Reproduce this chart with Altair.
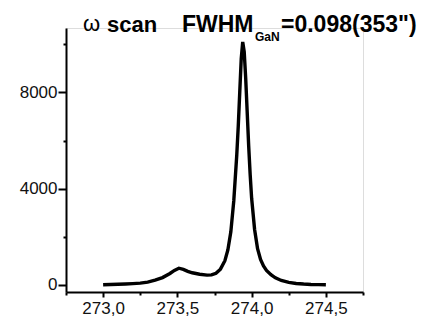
import altair as alt
import pandas as pd

# omega angle (deg) and intensity (counts)
omega = [273.00, 273.05, 273.10, 273.15, 273.20, 273.25, 273.30, 273.35, 273.40, 273.45,
         273.48, 273.51, 273.54, 273.57, 273.60, 273.65, 273.70, 273.73, 273.76, 273.79,
         273.82, 273.84, 273.86, 273.88, 273.90, 273.91, 273.92, 273.93, 273.94, 273.95,
         273.96, 273.97, 273.98, 273.99, 274.00, 274.02, 274.04, 274.06, 274.08, 274.10,
         274.13, 274.16, 274.20, 274.25, 274.30, 274.35, 274.40, 274.45, 274.50]
intensity = [0, 10, 20, 35, 50, 70, 110, 190, 300, 470,
             600, 690, 640, 560, 500, 440, 400, 410, 480, 650,
             1000, 1450, 2200, 3500, 5400, 6600, 8000, 9400, 10100, 9700,
             8600, 7200, 5800, 4600, 3600, 2300, 1500, 1050, 780, 600,
             420, 290, 180, 100, 55, 30, 15, 8, 0]

x_ticks = [272.75, 273.0, 273.25, 273.5, 273.75, 274.0, 274.25, 274.5, 274.75]
y_ticks = [0, 2000, 4000, 6000, 8000, 10000]

title_parts = ["ω", "scan", "FWHM", "GaN", "=0.098(353\")"]

W, H = 297, 264
FONT = "Liberation Sans"

df = pd.DataFrame({"omega": omega, "intensity": intensity})

line = alt.Chart(df).mark_line(color="black", strokeWidth=3.4).encode(
    x=alt.X("omega:Q",
            scale=alt.Scale(domain=[272.75, 274.75], nice=False, zero=False),
            axis=alt.Axis(values=x_ticks, title=None, grid=False,
                          labelExpr="abs(datum.value*2 - round(datum.value*2)) < 0.001 ? replace(format(datum.value, '.1f'), '.', ',') : ''",
                          tickSize={"condition": {"test": "abs(datum.value*2 - round(datum.value*2)) < 0.001", "value": 5}, "value": 3},
                          labelFontSize=17, labelFont=FONT, labelColor="#111",
                          domainColor="black", domainWidth=2, tickColor="black", tickWidth=2,
                          labelPadding=3)),
    y=alt.Y("intensity:Q",
            scale=alt.Scale(domain=[-300, 10680], nice=False, zero=False),
            axis=alt.Axis(values=y_ticks, title=None, grid=False,
                          labelExpr="datum.value % 4000 === 0 ? datum.label : ''",
                          format="d",
                          tickSize={"condition": {"test": "datum.value % 4000 === 0", "value": 8}, "value": 3},
                          labelFontSize=17, labelFont=FONT, labelColor="#111",
                          domainColor="black", domainWidth=2, tickColor="black", tickWidth=2,
                          labelPadding=1)),
)

def txt(s, x, y, size, bold=True):
    return alt.Chart(pd.DataFrame({"t": [s]})).mark_text(
        align="left", baseline="alphabetic", font=FONT, fontSize=size,
        fontWeight="bold" if bold else "normal", color="black"
    ).encode(x=alt.value(x), y=alt.value(y), text="t:N")

texts = [
    txt(title_parts[0], 17, 3, 22, bold=False),
    txt(title_parts[1], 41, 4, 22),
    txt(title_parts[2], 116, 4, 23),
    txt(title_parts[3], 189, 13, 12),
    txt(title_parts[4], 215, 4, 23),
]

chart = alt.layer(line, *texts).properties(
    width=W, height=H,
    autosize=alt.AutoSizeParams(type="none"),
    padding={"left": 58, "top": 20, "right": 60, "bottom": 27},
).configure_view(stroke=None).configure(background="white")

chart.save("out.html", embed_options={"renderer": "svg", "actions": False})
